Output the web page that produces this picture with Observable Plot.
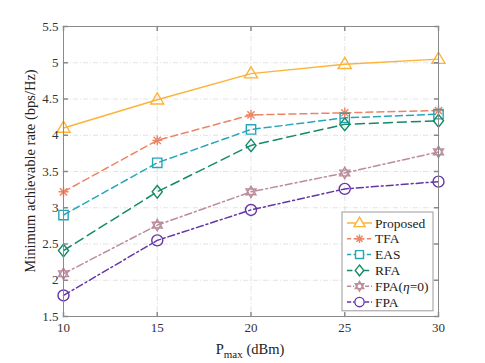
<!DOCTYPE html>
<html><head><meta charset="utf-8">
<script src="https://cdn.jsdelivr.net/npm/d3@7"></script>
<script src="https://cdn.jsdelivr.net/npm/@observablehq/plot@0.6"></script>
<style>body{margin:0;background:#fff}#chart{position:relative;width:485px;height:363px}</style>
</head><body><div id="chart"></div>
<script>
const xValues = [10, 15, 20, 25, 30];
const seriesNames = ["Proposed", "TFA", "EAS", "RFA", "FPA(η=0)", "FPA"];
const proposed = [4.10, 4.49, 4.85, 4.98, 5.05];
const tfa      = [3.22, 3.93, 4.28, 4.31, 4.34];
const eas      = [2.90, 3.62, 4.08, 4.24, 4.29];
const rfa      = [2.41, 3.22, 3.86, 4.15, 4.20];
const fpaEta0  = [2.09, 2.76, 3.22, 3.48, 3.77];
const fpa      = [1.79, 2.55, 2.97, 3.26, 3.36];
const xTicks = [10, 15, 20, 25, 30];
const yTicks = [1.5, 2, 2.5, 3, 3.5, 4, 4.5, 5, 5.5];

const colors = ["#FDB338", "#EC8466", "#27A6BA", "#138A68", "#BA8C9C", "#6436A6"];
const dashes = [null, "7,4", "7,4", "9,5", "7,3,2,3", "7,3,2,3"];

const asterisk = {draw(c, size){const r = Math.sqrt(size/Math.PI); const d = r*0.72;
  c.moveTo(-r,0);c.lineTo(r,0);c.moveTo(0,-r);c.lineTo(0,r);
  c.moveTo(-d,-d);c.lineTo(d,d);c.moveTo(-d,d);c.lineTo(d,-d);}};
const hexagram = {draw(c, size){const r = Math.sqrt(size/Math.PI)*1.15;
  for (const off of [-Math.PI/2, Math.PI/2]) {
    for (let i=0;i<3;i++){const a = off + i*2*Math.PI/3; const x=r*Math.cos(a), y=r*Math.sin(a); if(i===0)c.moveTo(x,y); else c.lineTo(x,y);} c.closePath();
  }}};
const triangle = {draw(c, size){const r = Math.sqrt(size/Math.PI)*1.25;
  c.moveTo(0,-r); c.lineTo(r*0.95, r*0.62); c.lineTo(-r*0.95, r*0.62); c.closePath();}};
const square = {draw(c, size){const r = Math.sqrt(size/Math.PI)*0.85; c.rect(-r,-r,2*r,2*r);}};
const diamond = {draw(c, size){const r = Math.sqrt(size/Math.PI)*1.15;
  c.moveTo(0,-r);c.lineTo(r*0.8,0);c.lineTo(0,r);c.lineTo(-r*0.8,0);c.closePath();}};
const circle = {draw(c, size){const r = Math.sqrt(size/Math.PI); c.moveTo(r,0); c.arc(0,0,r,0,2*Math.PI);}};
const symbols = [triangle, asterisk, square, diamond, hexagram, circle];
const radii = [5.5, 5, 5.5, 5.5, 5, 5.5];

const allValues = [proposed, tfa, eas, rfa, fpaEta0, fpa];
const series = seriesNames.map((name, i) => ({name, color: colors[i], dash: dashes[i], symbol: symbols[i], r: radii[i],
  data: xValues.map((x, j) => ({x, y: allValues[i][j]}))}));

const font = "'Liberation Serif', 'Times New Roman', serif";
const frameColor = "#8a8a8a";
const tickShape = {draw(c, l){c.moveTo(0,0); c.lineTo(0,-l);}};

const marks = [
  Plot.ruleX(xTicks.slice(1, -1), {stroke: "#dcdcdc", strokeDasharray: "5,2,1,2", strokeWidth: 0.8}),
  Plot.ruleY(yTicks.slice(1, -1), {stroke: "#dcdcdc", strokeDasharray: "5,2,1,2", strokeWidth: 0.8}),
];
for (const s of series) {
  marks.push(Plot.line(s.data, {x: "x", y: "y", stroke: s.color, strokeWidth: 1.5, strokeDasharray: s.dash}));
}
for (const s of series) {
  marks.push(Plot.dot(s.data, {x: "x", y: "y", stroke: s.color, fill: "none", strokeWidth: 1.4, symbol: s.symbol, r: s.r}));
}
marks.push(
  Plot.frame({stroke: frameColor, strokeWidth: 1}),
  Plot.vector(xTicks, {x: d => d, y: yTicks[0], length: 4, rotate: 0, anchor: "start", shape: tickShape, stroke: frameColor}),
  Plot.vector(xTicks, {x: d => d, y: yTicks[yTicks.length-1], length: 4, rotate: 180, anchor: "start", shape: tickShape, stroke: frameColor}),
  Plot.vector(yTicks, {y: d => d, x: xTicks[0], length: 4, rotate: 90, anchor: "start", shape: tickShape, stroke: frameColor}),
  Plot.vector(yTicks, {y: d => d, x: xTicks[xTicks.length-1], length: 4, rotate: -90, anchor: "start", shape: tickShape, stroke: frameColor}),
  Plot.axisX(xTicks, {tickSize: 0, tickPadding: 6, fontSize: 13, label: null, tickFormat: d => String(d)}),
  Plot.axisY(yTicks, {tickSize: 0, tickPadding: 5, fontSize: 13, label: null, tickFormat: d => String(d)})
);

const chart = Plot.plot({
  width: 485, height: 363,
  marginLeft: 63, marginRight: 47, marginTop: 26, marginBottom: 47,
  x: {domain: [10, 30]},
  y: {domain: [1.5, 5.5]},
  style: {fontFamily: font, color: "#333", background: "#fff"},
  marks
});
document.getElementById("chart").appendChild(chart);

const svg = d3.select(chart);
// X label
const xl = svg.append("text").attr("x", 250).attr("y", 354).attr("text-anchor", "middle")
  .attr("font-family", font).attr("font-size", 14.5).attr("fill", "#222");
xl.append("tspan").text("P");
xl.append("tspan").attr("font-size", 11).attr("dy", 4).text("max");
xl.append("tspan").attr("dy", -4).text(" (dBm)");
// Y label
svg.append("text").attr("transform", "translate(35,171) rotate(-90)").attr("text-anchor", "middle")
  .attr("font-family", font).attr("font-size", 14.5).attr("fill", "#222")
  .text("Minimum achievable rate (bps/Hz)");

// Legend
const lx = 342, ly = 212, lw = 91, rowH = 15.8;
const lg = svg.append("g");
lg.append("rect").attr("x", lx).attr("y", ly).attr("width", lw).attr("height", rowH*series.length + 4)
  .attr("fill", "#fff").attr("stroke", "#9a9a9a").attr("stroke-width", 1);
series.forEach((s, i) => {
  const cy = ly + 11 + i*rowH;
  lg.append("line").attr("x1", lx+5).attr("x2", lx+30).attr("y1", cy).attr("y2", cy)
    .attr("stroke", s.color).attr("stroke-width", 1.5).attr("stroke-dasharray", s.dash ? s.dash.split(",").map(v=>v*0.6).join(",") : null);
  const p = d3.path(); s.symbol.draw(p, Math.PI * (s.r*0.85) ** 2);
  lg.append("path").attr("d", p.toString()).attr("transform", `translate(${lx+17.5},${cy})`)
    .attr("fill", "#fff").attr("stroke", s.color).attr("stroke-width", 1.4);
  const t = lg.append("text").attr("x", lx+33).attr("y", cy+4.5).attr("text-anchor", "start")
    .attr("font-family", font).attr("font-size", 13.5).attr("fill", "#222");
  if (s.name.includes("η")) {
    t.append("tspan").text("FPA(");
    t.append("tspan").attr("font-style", "italic").text("η");
    t.append("tspan").text("=0)");
  } else t.text(s.name);
});
</script></body></html>
